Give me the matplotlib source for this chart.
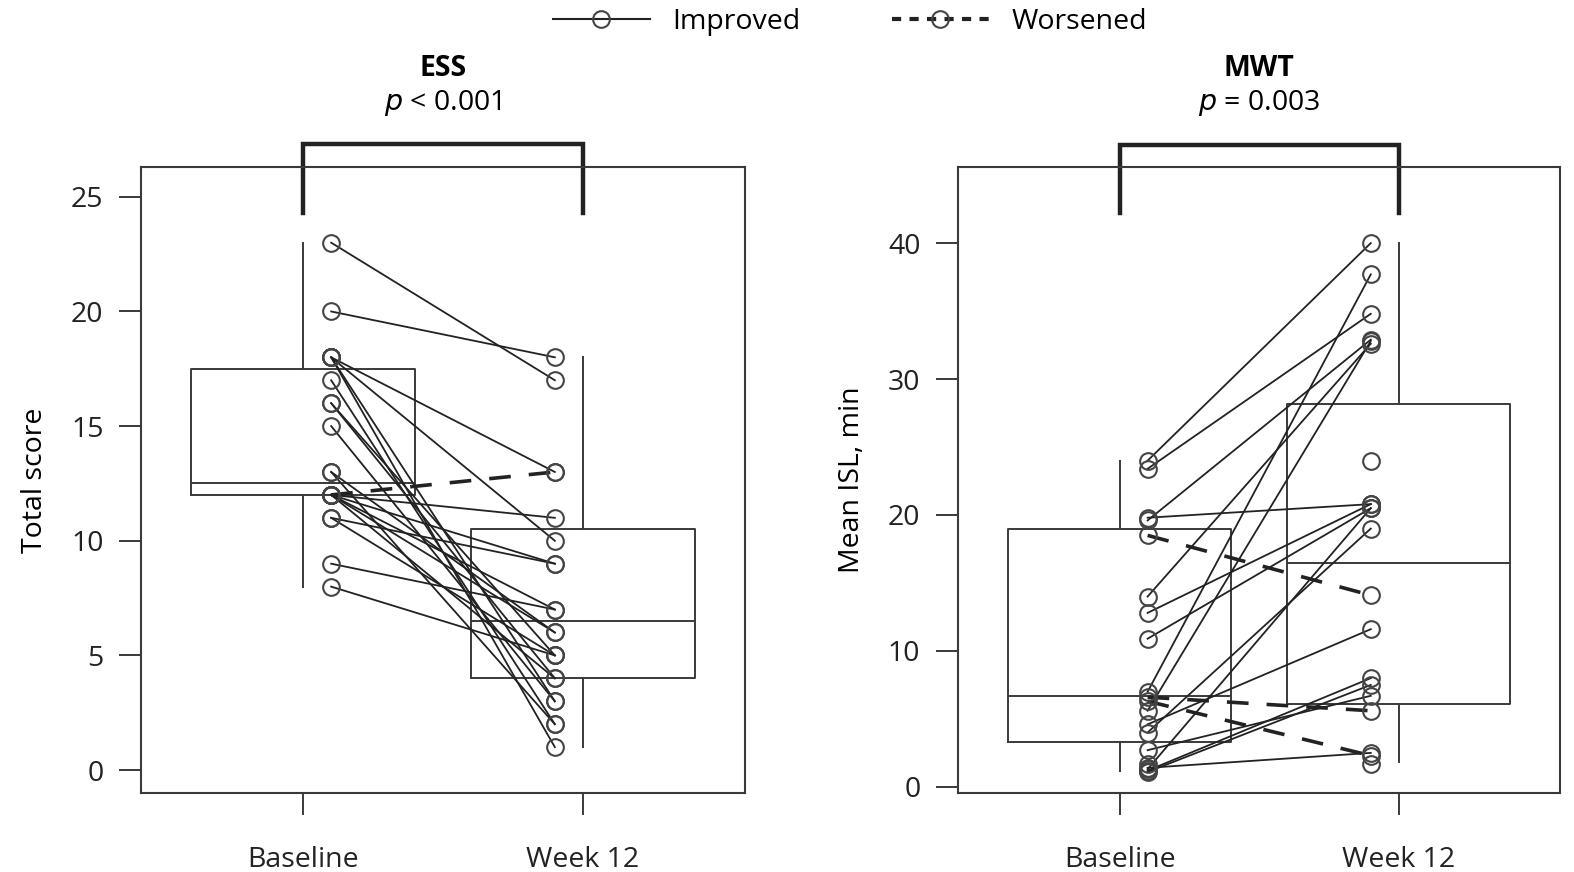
import numpy as np
import matplotlib
matplotlib.use("Agg")
import matplotlib.pyplot as plt
from matplotlib.lines import Line2D
from matplotlib.transforms import blended_transform_factory

plt.rcParams['font.family'] = ['Open Sans', 'DejaVu Sans']

# ESS paired values (baseline, week 12); worsened flag
ess_base = [23, 20, 18, 18, 18, 18, 17, 16, 16, 15, 13, 13, 12, 12, 12, 12, 12, 12, 11, 11, 9, 8]
ess_wk12 = [17, 18, 13, 10, 3, 1, 2, 4, 5, 3, 6, 2, 13, 11, 9, 7, 4, 6, 9, 5, 7, 5]
ess_worse = [0, 0, 0, 0, 0, 0, 0, 0, 0, 0, 0, 0, 1, 0, 0, 0, 0, 0, 0, 0, 0, 0]
# box stats: whislo, q1, med, q3, whishi
ess_box_base = [8, 12, 12.5, 17.5, 23]
ess_box_wk12 = [1, 4, 6.5, 10.5, 18]

# MWT paired values (nan = missing)
mwt_base = [24.0, 23.4, 19.8, 19.6, 18.5, 14.0, 12.8, 10.9, 7.0, 6.6, 6.3, 5.6, 4.6, 4.0,
            1.3, 1.2, 1.1, 1.4, 2.7, np.nan, np.nan, 1.7]
mwt_wk12 = [40.0, 34.8, 20.8, 32.9, 14.1, 32.6, 20.8, 20.5, 37.7, 5.6, 2.3, 32.8, 11.6, 19.0,
            20.5, 8.0, 7.5, 2.5, 6.7, 24.0, 1.7, np.nan]
mwt_worse = [0, 0, 0, 0, 1, 0, 0, 0, 0, 1, 1, 0, 0, 0, 0, 0, 0, 0, 0, 0, 0, 0]
mwt_box_base = [1.2, 3.3, 6.7, 19.0, 24.0]
mwt_box_wk12 = [1.8, 6.1, 16.5, 28.2, 40.0]

groups = ['Baseline', 'Week 12']
gray = '#3a3a3a'
fs = 20.5


def panel(ax, base, wk12, worse, box_b, box_w, ylim, yticks, ylabel, title, ptext, brk):
    stats = []
    for b, lab in zip([box_b, box_w], groups):
        stats.append(dict(whislo=b[0], q1=b[1], med=b[2], q3=b[3], whishi=b[4], label=lab))
    lp = dict(color=gray, linewidth=1.4)
    ax.bxp(stats, positions=[1, 2], widths=0.8, showcaps=False, showfliers=False,
           boxprops=lp, whiskerprops=lp, medianprops=lp)
    for b, w, wo in zip(base, wk12, worse):
        if not np.isnan(b) and not np.isnan(w):
            ax.plot([1.1, 1.9], [b, w], color='#222222', lw=1.3 if not wo else 2.6,
                    ls='-' if not wo else (0, (6, 5)), zorder=3)
    ax.plot(np.full(len(base), 1.1), base, 'o', mfc='none', mec='#444444', ms=12, mew=1.5, zorder=4)
    ax.plot(np.full(len(wk12), 1.9), wk12, 'o', mfc='none', mec='#444444', ms=12, mew=1.5, zorder=4)
    ax.set_xlim(0.42, 2.58)
    ax.set_ylim(*ylim)
    ax.set_xticks([1, 2])
    ax.set_xticklabels(groups)
    ax.set_yticks(yticks)
    ax.tick_params(axis='both', length=16, width=1.4, color=gray, labelsize=fs,
                   labelcolor='#222222')
    ax.tick_params(axis='x', pad=22)
    ax.tick_params(axis='y', pad=11)
    ax.set_ylabel(ylabel, fontsize=fs, labelpad=16)
    for s in ax.spines.values():
        s.set_color(gray)
        s.set_linewidth(1.5)
    # bracket
    ax.plot([1, 1, 2, 2], [brk[0], brk[1], brk[1], brk[0]], color='#222222', lw=3.2,
            clip_on=False, solid_joinstyle='miter')
    tr = blended_transform_factory(ax.transData, ax.transAxes)
    ax.text(1.5, 1.158, title, transform=tr, ha='center', va='center',
            fontsize=fs, fontweight='bold')
    ax.text(1.5, 1.102, ptext, transform=tr, ha='center', va='center', fontsize=fs)


fig = plt.figure(figsize=(15.74, 8.72), dpi=100)
ax1 = fig.add_axes([0.0896, 0.0906, 0.3837, 0.7179])
ax2 = fig.add_axes([0.6086, 0.0906, 0.3828, 0.7179])

panel(ax1, ess_base, ess_wk12, ess_worse, ess_box_base, ess_box_wk12,
      (-1.0, 26.3), [0, 5, 10, 15, 20, 25], 'Total score', 'ESS', r'$p$ < 0.001', (24.3, 27.3))
panel(ax2, mwt_base, mwt_wk12, mwt_worse, mwt_box_base, mwt_box_wk12,
      (-0.45, 45.6), [0, 10, 20, 30, 40], 'Mean ISL, min', 'MWT', r'$p$ = 0.003', (42.2, 47.2))

handles = [Line2D([], [], color='#222222', lw=1.5, marker='o', mfc='none', mec='#444444', ms=12, mew=1.5),
           Line2D([], [], color='#222222', lw=3, ls=(0, (2.2, 2)), marker='o', mfc='none',
                  mec='#444444', ms=12, mew=1.5)]
fig.legend(handles, ['Improved', 'Worsened'], loc='upper center', bbox_to_anchor=(0.54, 1.02),
           ncol=2, frameon=False, fontsize=fs, handlelength=3.4, columnspacing=3.2)

fig.savefig('out.png', dpi=100)
